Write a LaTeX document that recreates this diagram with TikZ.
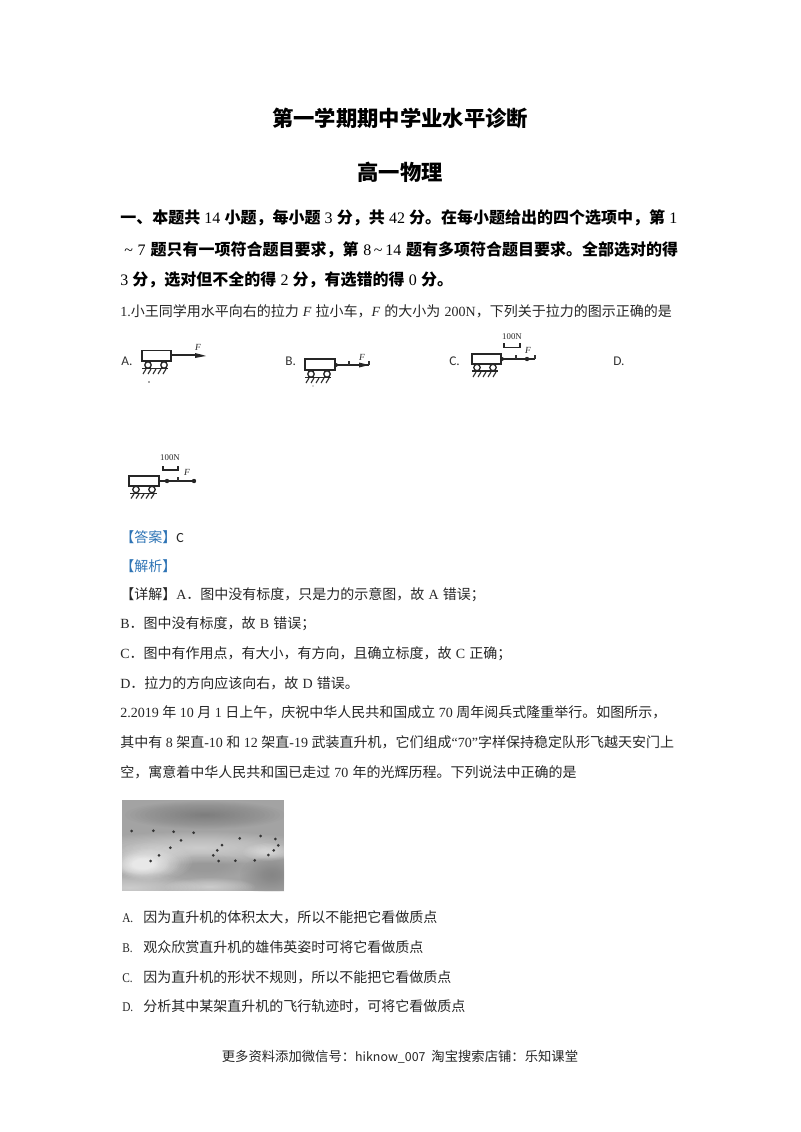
\documentclass[tikz,border=0pt]{standalone}
\usepackage{fontspec}
\setmainfont{Liberation Serif}
\newfontfamily\cjk{Noto Sans CJK SC}
\newfontfamily\cali{Carlito}
\definecolor{ansblue}{HTML}{2E74B5}
\newcommand{\nm}[1]{\hspace{.3em}{\rmfamily\mdseries #1}\hspace{.3em}}
\newcommand{\hm}[1]{\hspace{.26em}{\rmfamily\mdseries #1}\hspace{.26em}}
\newcommand{\nn}[1]{{\rmfamily\mdseries #1}}
\newcommand{\lab}[1]{\makebox[15.75pt][l]{\fontsize{10pt}{11pt}\rmfamily\scalebox{.85}[1]{#1}}}
\newcommand{\softblob}[5]{\foreach \k in {1,...,16} \fill[#5,opacity=.045] (#1,#2) ellipse ({#3*\k/16} and {#4*\k/16});}
\tikzset{x=0.75pt,y=-0.75pt,
 line/.style={anchor=west,inner sep=0pt,font=\fontsize{10.5pt}{12pt}\cjk,text=black!85},
 hline/.style={anchor=west,inner sep=0pt,font=\fontsize{12pt}{14pt}\cjk\bfseries,text=black},
 optlab/.style={anchor=west,inner sep=0pt,font=\fontsize{10pt}{12pt}\cali,text=black!80},
 sketch/.style={line width=1.1pt,black!85},
 wheel/.style={line width=1pt,black!85},
 hatch/.style={line width=.85pt,black!80},
 small/.style={font=\fontsize{6.6pt}{8pt}\selectfont,inner sep=0pt,text=black!85},
 fl/.style={font=\fontsize{7pt}{8pt}\selectfont\itshape,inner sep=0pt,text=black!85},
}
\begin{document}
\begin{tikzpicture}
\useasboundingbox (0,0) rectangle (800,1132);
\fill[white] (0,0) rectangle (800,1132);
% title
\node[inner sep=0pt,font=\fontsize{16pt}{18pt}\cjk\bfseries] (t1) at (400,118) {第一学期期中学业水平诊断};
\node[inner sep=0pt,font=\fontsize{16pt}{18pt}\cjk\bfseries] (t2) at (400,172) {高一物理};
\node[hline] (h1) at (120,218) {一、本题共\hm{14}小题，每小题\hm{3}分，共\hm{42}分。在每小题给出的四个选项中，第\hm{1}};
\node[hline] (h2) at (124,250) {\nn{\textasciitilde}\nm{7}题只有一项符合题目要求，第\nm{8\,\textasciitilde\,14}题有多项符合题目要求。全部选对的得};
\node[hline] (h3) at (120,280) {\nn{3}\hspace{.26em}分，选对但不全的得\hm{2}分，有选错的得\hm{0}分。};
\node[line] (q1) at (120,311) {\nn{1.}小王同学用水平向右的拉力\hspace{.3em}{\rmfamily\itshape F}\hspace{.3em}拉小车，{\rmfamily\itshape F}\hspace{.3em}的大小为\hspace{.3em}\nn{200N}，下列关于拉力的图示正确的是};
% options
\node[optlab] (oa) at (121,361) {A.};
\node[optlab] (ob) at (285,361) {B.};
\node[optlab] (oc) at (449,361) {C.};
\node[optlab] (od) at (613,361) {D.};
% fig A
\draw[sketch] (142,350.5) rectangle (171,361);
\draw[sketch] (171,355) -- (196,355);
\fill[black!85] (195,353) -- (203,355) -- (206,356) -- (203,356.5) -- (195,358) -- cycle;
\node[fl] (fa) at (198,347) {F};
\draw[wheel] (148,365) circle (3.2);
\draw[wheel] (164,365) circle (3.2);
\draw[sketch] (142,368.5) -- (168,368.5);
\foreach \i in {0,...,4} \draw[hatch] (146+5*\i,369) -- ++(-3,5);
\fill[black!70] (149,382) circle (.8);
% fig B
\draw[sketch] (305,359) rectangle (335,370);
\draw[sketch] (335,365) -- (369,365);
\fill[black!85] (336,365) circle (2);
\fill[black!85] (359,362.5) -- (369,365) -- (359,367.5) -- cycle;
\draw[hatch] (349,365) -- (349,361);
\draw[hatch] (369,365) -- (369,361);
\node[fl] (fb) at (362,357) {F};
\draw[wheel] (311,374) circle (3.2);
\draw[wheel] (327,374) circle (3.2);
\draw[sketch] (305,377.5) -- (331,377.5);
\foreach \i in {0,...,4} \draw[hatch] (309+5*\i,378) -- ++(-3,5);
\fill[black!70] (313,386) circle (.7);
% fig C
\node[small] (c100) at (512,336.5) {100N};
\draw[sketch] (504,343) -- (504,347.5) -- (520,347.5) -- (520,343);
\draw[sketch] (472,354) rectangle (501,364);
\draw[sketch] (501,359) -- (535,359);
\fill[black!85] (502,359) circle (2);
\fill[black!85] (527,359) circle (2.2);
\draw[hatch] (516,359) -- (516,355);
\draw[hatch] (535,359) -- (535,355);
\node[fl] (fc) at (528,350) {F};
\draw[wheel] (477,367.5) circle (3.2);
\draw[wheel] (493,367.5) circle (3.2);
\draw[sketch] (472,371) -- (498,371);
\foreach \i in {0,...,4} \draw[hatch] (476+5*\i,372) -- ++(-3,5);
% fig D
\node[small] (d100) at (170,458) {100N};
\draw[sketch] (163,466) -- (163,470) -- (178,470) -- (178,466);
\draw[sketch] (129,476) rectangle (159,486);
\draw[sketch] (159,481) -- (194,481);
\fill[black!85] (167,481) circle (2.2);
\fill[black!85] (194,481) circle (2.2);
\draw[hatch] (178,481) -- (178,477);
\node[fl] (fd) at (187,472) {F};
\draw[wheel] (136,489.5) circle (3.2);
\draw[wheel] (152,489.5) circle (3.2);
\draw[sketch] (130,493.5) -- (157,493.5);
\foreach \i in {0,...,4} \draw[hatch] (134+5*\i,494) -- ++(-3,4.5);
% analysis
\node[line] (ans) at (120,537) {{\color{ansblue}【答案】}{\cali C}};
\node[line] (ana) at (120,566) {{\color{ansblue}【解析】}};
\node[line] (a1) at (120,595) {【详解】\nn{A}．图中没有标度，只是力的示意图，故\nm{A}错误；};
\node[line] (a2) at (120,624) {\nn{B}．图中没有标度，故\nm{B}错误；};
\node[line] (a3) at (120,654) {\nn{C}．图中有作用点，有大小，有方向，且确立标度，故\nm{C}正确；};
\node[line] (a4) at (120,683) {\nn{D}．拉力的方向应该向右，故\nm{D}错误。};
\node[line] (q2a) at (120,712) {\nn{2.2019}\hspace{.25em}年\hspace{.25em}\nn{10}\hspace{.25em}月\hspace{.25em}\nn{1}\hspace{.25em}日上午，庆祝中华人民共和国成立\hspace{.25em}\nn{70}\hspace{.25em}周年阅兵式隆重举行。如图所示，};
\node[line] (q2b) at (120,742) {其中有\hspace{.25em}\nn{8}\hspace{.25em}架直\nn{-10}\hspace{.25em}和\hspace{.25em}\nn{12}\hspace{.25em}架直\nn{-19}\hspace{.25em}武装直升机，它们组成\nn{“70”}字样保持稳定队形飞越天安门上};
\node[line] (q2c) at (120,772) {空，寓意着中华人民共和国已走过\nm{70}年的光辉历程。下列说法中正确的是};
% photo
\begin{scope}
\clip (122,800) rectangle (284,891);
\fill[black!36] (122,800) rectangle (284,891);
\softblob{205}{815}{80}{14}{black!60}
\softblob{200}{848}{120}{16}{white}
\softblob{272}{875}{32}{20}{black!55}
\softblob{205}{866}{45}{12}{black!40}
\softblob{130}{888}{70}{14}{white}
\softblob{210}{887}{45}{9}{white}
\softblob{150}{862}{42}{19}{white}
\softblob{146}{864}{34}{15}{white}
\softblob{142}{865}{28}{12}{white}
\softblob{140}{865}{20}{10}{white}
\softblob{268}{852}{25}{9}{white}
\foreach \x/\y in {50/108,115/107,176/110,236/113,198/136,166/158,132/181,107/198,374/130,437/123,481/132,490/151,476/166,460/180,419/196,361/197,311/198,295/181,307/166,321/150}
  \fill[black!80] ({115+\x/3},{795+\y/3}) circle (1.5);
\end{scope}
% choices
\node[line] (c1) at (122,917) {\lab{A.}因为直升机的体积太大，所以不能把它看做质点};
\node[line] (c2) at (122,947) {\lab{B.}观众欣赏直升机的雄伟英姿时可将它看做质点};
\node[line] (c3) at (122,977) {\lab{C.}因为直升机的形状不规则，所以不能把它看做质点};
\node[line] (c4) at (122,1006) {\lab{D.}分析其中某架直升机的飞行轨迹时，可将它看做质点};
\node[inner sep=0pt,font=\fontsize{10pt}{12pt}\cjk,text=black!85] (foot) at (400,1057) {更多资料添加微信号：{\fontsize{9.3pt}{11pt}\selectfont hiknow\_007}\ \ 淘宝搜索店铺：乐知课堂};
\end{tikzpicture}
\end{document}
